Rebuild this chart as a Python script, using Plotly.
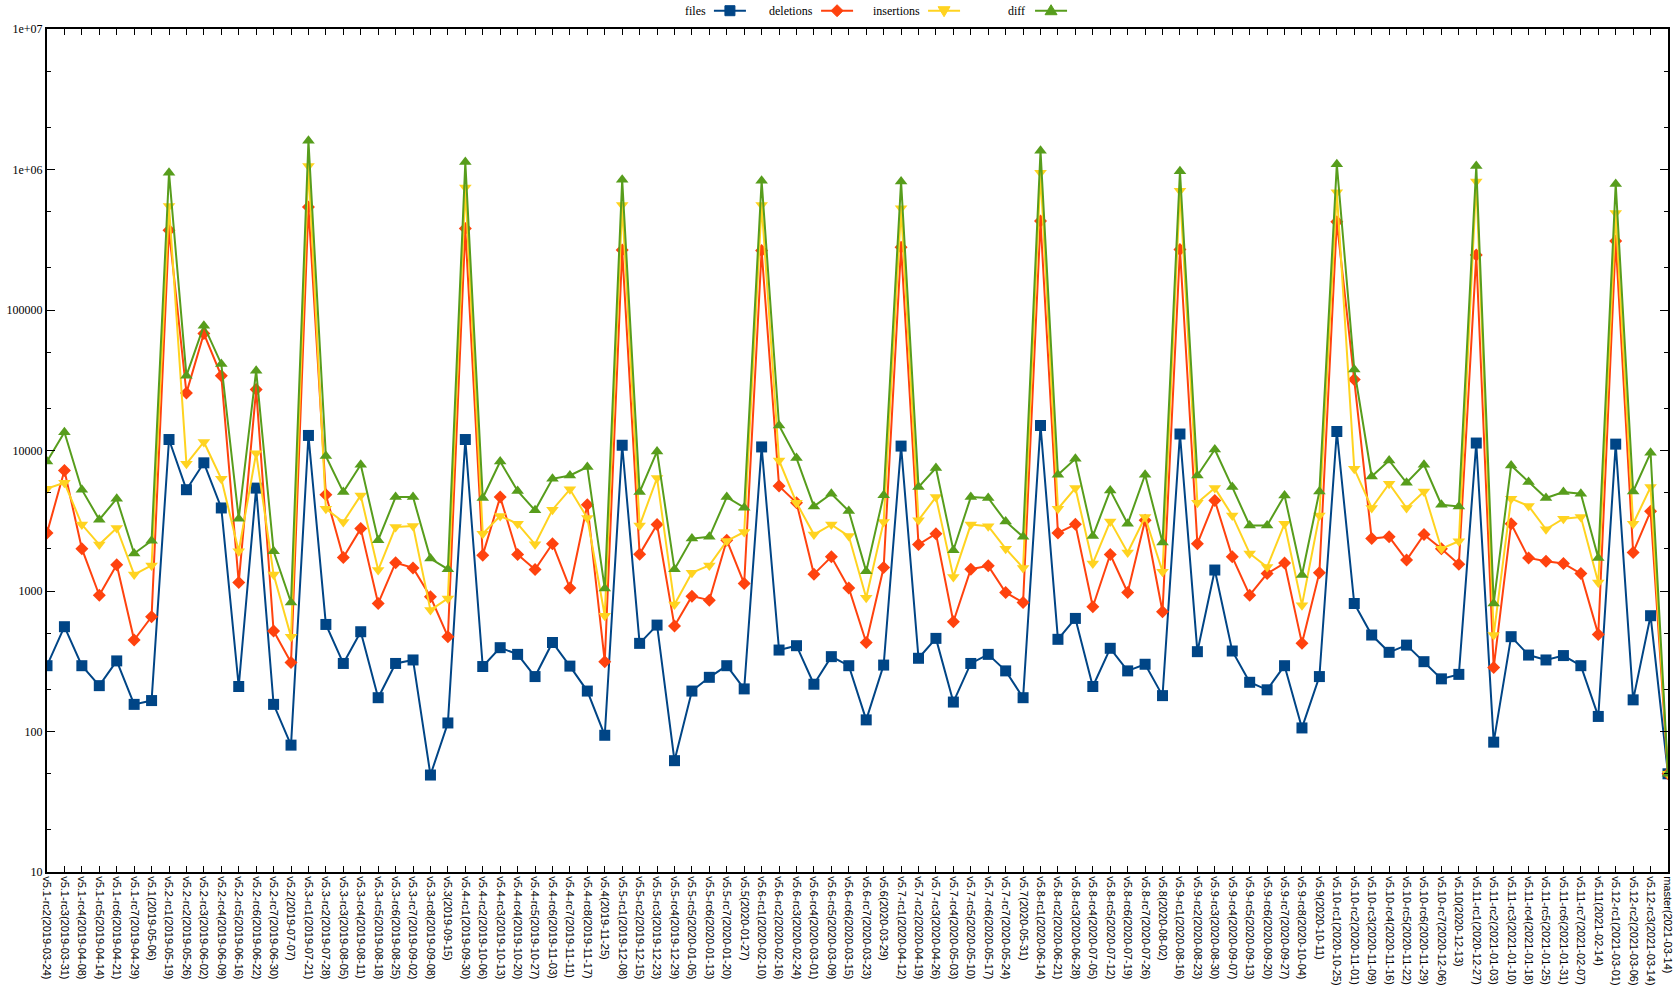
import plotly.graph_objects as go

labels = [
    "v5.1-rc2(2019-03-24)", "v5.1-rc3(2019-03-31)", "v5.1-rc4(2019-04-08)", "v5.1-rc5(2019-04-14)",
    "v5.1-rc6(2019-04-21)", "v5.1-rc7(2019-04-29)", "v5.1(2019-05-06)", "v5.2-rc1(2019-05-19)",
    "v5.2-rc2(2019-05-26)", "v5.2-rc3(2019-06-02)", "v5.2-rc4(2019-06-09)", "v5.2-rc5(2019-06-16)",
    "v5.2-rc6(2019-06-22)", "v5.2-rc7(2019-06-30)", "v5.2(2019-07-07)", "v5.3-rc1(2019-07-21)",
    "v5.3-rc2(2019-07-28)", "v5.3-rc3(2019-08-05)", "v5.3-rc4(2019-08-11)", "v5.3-rc5(2019-08-18)",
    "v5.3-rc6(2019-08-25)", "v5.3-rc7(2019-09-02)", "v5.3-rc8(2019-09-08)", "v5.3(2019-09-15)",
    "v5.4-rc1(2019-09-30)", "v5.4-rc2(2019-10-06)", "v5.4-rc3(2019-10-13)", "v5.4-rc4(2019-10-20)",
    "v5.4-rc5(2019-10-27)", "v5.4-rc6(2019-11-03)", "v5.4-rc7(2019-11-11)", "v5.4-rc8(2019-11-17)",
    "v5.4(2019-11-25)", "v5.5-rc1(2019-12-08)", "v5.5-rc2(2019-12-15)", "v5.5-rc3(2019-12-23)",
    "v5.5-rc4(2019-12-29)", "v5.5-rc5(2020-01-05)", "v5.5-rc6(2020-01-13)", "v5.5-rc7(2020-01-20)",
    "v5.5(2020-01-27)", "v5.6-rc1(2020-02-10)", "v5.6-rc2(2020-02-16)", "v5.6-rc3(2020-02-24)",
    "v5.6-rc4(2020-03-01)", "v5.6-rc5(2020-03-09)", "v5.6-rc6(2020-03-15)", "v5.6-rc7(2020-03-23)",
    "v5.6(2020-03-29)", "v5.7-rc1(2020-04-12)", "v5.7-rc2(2020-04-19)", "v5.7-rc3(2020-04-26)",
    "v5.7-rc4(2020-05-03)", "v5.7-rc5(2020-05-10)", "v5.7-rc6(2020-05-17)", "v5.7-rc7(2020-05-24)",
    "v5.7(2020-05-31)", "v5.8-rc1(2020-06-14)", "v5.8-rc2(2020-06-21)", "v5.8-rc3(2020-06-28)",
    "v5.8-rc4(2020-07-05)", "v5.8-rc5(2020-07-12)", "v5.8-rc6(2020-07-19)", "v5.8-rc7(2020-07-26)",
    "v5.8(2020-08-02)", "v5.9-rc1(2020-08-16)", "v5.9-rc2(2020-08-23)", "v5.9-rc3(2020-08-30)",
    "v5.9-rc4(2020-09-07)", "v5.9-rc5(2020-09-13)", "v5.9-rc6(2020-09-20)", "v5.9-rc7(2020-09-27)",
    "v5.9-rc8(2020-10-04)", "v5.9(2020-10-11)", "v5.10-rc1(2020-10-25)", "v5.10-rc2(2020-11-01)",
    "v5.10-rc3(2020-11-09)", "v5.10-rc4(2020-11-16)", "v5.10-rc5(2020-11-22)", "v5.10-rc6(2020-11-29)",
    "v5.10-rc7(2020-12-06)", "v5.10(2020-12-13)", "v5.11-rc1(2020-12-27)", "v5.11-rc2(2021-01-03)",
    "v5.11-rc3(2021-01-10)", "v5.11-rc4(2021-01-18)", "v5.11-rc5(2021-01-25)", "v5.11-rc6(2021-01-31)",
    "v5.11-rc7(2021-02-07)", "v5.11(2021-02-14)", "v5.12-rc1(2021-03-01)", "v5.12-rc2(2021-03-06)",
    "v5.12-rc3(2021-03-14)", "master(2021-03-14)",
]

files = [
    294, 557, 294, 212, 318, 156, 166, 11970, 5260, 8170, 3900, 209, 5400, 156, 80, 12800,
    578, 305, 513, 174, 305, 323, 49, 115, 11970, 290, 395, 354, 246, 430, 292, 194,
    94, 10900, 424, 572, 62, 194, 243, 294, 201, 10600, 380, 408, 217, 341, 294, 121,
    297, 10750, 332, 460, 162, 305, 354, 270, 174, 15060, 453, 638, 209, 391, 270, 301,
    180, 13100, 370, 1410, 374, 224, 198, 294, 106, 246, 13650, 815, 486, 366, 412, 314,
    237, 255, 11300, 84, 473, 350, 323, 347, 294, 128, 11100, 168, 667, 50,
]

deletions = [
    2590, 7210, 2000, 933, 1540, 448, 656, 370000, 25700, 68000, 34000, 1150, 27200, 519, 310, 540000,
    4840, 1730, 2780, 815, 1590, 1460, 910, 473, 380000, 1800, 4660, 1820, 1420, 2170, 1050, 4110,
    314, 267000, 1830, 2970, 563, 919, 861, 2300, 1130, 265000, 5580, 4250, 1318, 1750, 1050, 430,
    1470, 280000, 2140, 2560, 604, 1430, 1510, 976, 828, 430000, 2590, 2980, 773, 1820, 976, 3190,
    711, 270000, 2170, 4410, 1750, 933, 1330, 1580, 424, 1350, 425000, 32000, 2360, 2430, 1660, 2520,
    2000, 1550, 246000, 285, 3010, 1720, 1630, 1570, 1330, 491, 310000, 1880, 3690, 50,
]

insertions = [
    5350, 5890, 2970, 2140, 2810, 1310, 1520, 550000, 8040, 11500, 6290, 1920, 9570, 1310, 473, 1060000,
    3850, 3100, 4790, 1410, 2860, 2900, 731, 885, 745000, 2560, 3420, 3010, 2150, 3790, 5290, 3310,
    667, 560000, 2930, 6370, 802, 1350, 1520, 2270, 2630, 560000, 8490, 4250, 2520, 2970, 2460, 894,
    3100, 530000, 3190, 4660, 1260, 2970, 2890, 2000, 1460, 950000, 3850, 5400, 1570, 3130, 1880, 3360,
    1370, 705000, 4250, 5400, 3450, 1850, 1480, 3010, 793, 3450, 690000, 7410, 3900, 5800, 3900, 5110,
    2000, 2260, 820000, 486, 4540, 4030, 2750, 3270, 3360, 1150, 490000, 3010, 5490, 50,
]

diff = [
    8350, 13500, 5260, 3220, 4540, 1850, 2280, 950000, 34100, 77400, 41300, 3270, 37000, 1920, 828, 1600000,
    9120, 5060, 7910, 2300, 4660, 4660, 1700, 1430, 1130000, 4590, 8350, 5150, 3750, 6290, 6640, 7620,
    1040, 845000, 5060, 9840, 1430, 2360, 2430, 4660, 3920, 830000, 15060, 8830, 4000, 4920, 3710, 1380,
    4800, 820000, 5490, 7500, 1950, 4660, 4590, 3130, 2430, 1360000, 6720, 8730, 2460, 5200, 3010, 6720,
    2210, 970000, 6640, 10160, 5490, 2930, 2930, 4790, 1300, 5110, 1090000, 37700, 6530, 8490, 5890, 7910,
    4110, 4000, 1060000, 815, 7820, 5960, 4590, 5060, 4920, 1720, 790000, 5110, 9620, 50,
]

y_tickvals = [10, 100, 1000, 10000, 100000, 1000000, 10000000]
y_ticktext = ["10", "100", "1000", "10000", "100000", "1e+06", "1e+07"]

series_names = ["files", "deletions", "insertions", "diff"]
series_colors = ["#004586", "#ff420e", "#ffd320", "#579d1c"]
series_symbols = ["square", "diamond", "triangle-down", "triangle-up"]
series_sizes = [11, 10, 11, 11]
series_data = [files, deletions, insertions, diff]

fig = go.Figure()
for name, color, sym, size, data in zip(series_names, series_colors, series_symbols, series_sizes, series_data):
    fig.add_trace(go.Scatter(
        x=labels, y=data, name=name, mode="lines+markers",
        line=dict(color=color, width=2),
        marker=dict(symbol=sym, size=size, color=color),
        showlegend=False,
    ))

# custom gnuplot-style legend: text then sample
legend_text_x = [0.4072, 0.4732, 0.5392, 0.6042]
legend_mark_x = [0.4213, 0.4874, 0.5534, 0.6194]
legend_y = 1.0217
marker_paths = {
    "square": "M-5,-5 L5,-5 L5,5 L-5,5 Z",
    "diamond": "M0,-6 L6,0 L0,6 L-6,0 Z",
    "triangle-down": "M-6,4 L6,4 L0,-6 Z",
    "triangle-up": "M-6,-4 L6,-4 L0,6 Z",
}
for name, color, sym, tx, mx in zip(series_names, series_colors, series_symbols, legend_text_x, legend_mark_x):
    fig.add_annotation(x=tx, y=legend_y, xref="paper", yref="paper", text=name,
                       showarrow=False, xanchor="right", yanchor="middle", borderpad=0,
                       font=dict(family="Liberation Serif", size=12, color="black"))
    fig.add_shape(type="line", xref="paper", yref="paper", xsizemode="pixel", ysizemode="pixel",
                  xanchor=mx, yanchor=legend_y, x0=-16, x1=16, y0=0, y1=0,
                  line=dict(color=color, width=2))
    fig.add_shape(type="path", xref="paper", yref="paper", xsizemode="pixel", ysizemode="pixel",
                  xanchor=mx, yanchor=legend_y, path=marker_paths[sym],
                  fillcolor=color, line=dict(color=color, width=1))

fig.update_layout(
    width=1680, height=1008,
    margin=dict(l=47, r=12, t=29, b=136, autoexpand=False),
    paper_bgcolor="white", plot_bgcolor="white",
    showlegend=False,
)
fig.update_xaxes(
    type="category", range=[0, len(labels) - 1], automargin=False,
    tickangle=90, tickfont=dict(family="Liberation Sans", size=11, color="black"),
    ticks="inside", ticklen=6, tickcolor="black", tickwidth=1,
    showline=True, linecolor="black", linewidth=2, mirror="ticks",
    showgrid=False, zeroline=False,
)
fig.update_yaxes(
    type="log", range=[1, 7], automargin=False,
    tickvals=y_tickvals, ticktext=y_ticktext,
    tickfont=dict(family="Liberation Serif", size=12, color="black"),
    ticks="inside", ticklen=8, tickcolor="black", tickwidth=1,
    minor=dict(ticks="inside", ticklen=4, tickcolor="black", showgrid=False),
    showline=True, linecolor="black", linewidth=2, mirror="ticks",
    showgrid=False, zeroline=False,
)

fig.write_html("out.html", config={"displayModeBar": False},
               post_script="document.body.style.margin='0px';")
